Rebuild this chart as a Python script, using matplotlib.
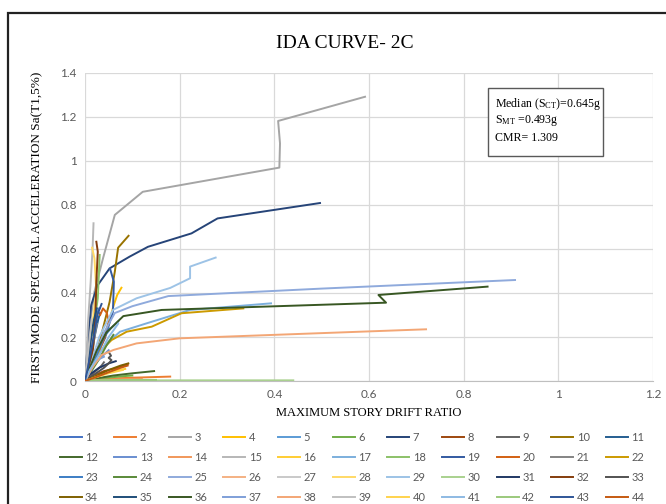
import matplotlib
matplotlib.use("Agg")
import matplotlib.pyplot as plt
from matplotlib.patches import Rectangle

plt.rcParams['mathtext.fontset'] = 'custom'
plt.rcParams['mathtext.rm'] = 'Liberation Serif'
plt.rcParams['mathtext.it'] = 'Liberation Serif:italic'

SERIF = 'Liberation Serif'
SANS = 'Lato'

# IDA curves, one (drift, Sa) pair of lists per record
c01 = ([0, 0.006, 0.012, 0.018, 0.024, 0.030], [0, 0.08, 0.16, 0.24, 0.30, 0.33])
c02 = ([0, 0.01, 0.04, 0.10, 0.18], [0, 0.005, 0.01, 0.015, 0.02])
c03 = ([0, 0.005, 0.010, 0.020, 0.038, 0.063, 0.122, 0.4106, 0.412, 0.408, 0.5916],
       [0, 0.10, 0.255, 0.406, 0.557, 0.755, 0.860, 0.970, 1.08, 1.182, 1.292])
c04 = ([0, 0.010, 0.027, 0.040, 0.049, 0.060, 0.068, 0.077], [0, 0.04, 0.118, 0.19, 0.255, 0.34, 0.391, 0.424])
c05 = ([0, 0.010, 0.025, 0.040, 0.055, 0.070], [0, 0.06, 0.13, 0.20, 0.24, 0.27])
c06 = ([0, 0.03, 0.07, 0.10], [0, 0.01, 0.02, 0.025])
c07 = ([0, 0.006, 0.013, 0.027, 0.052, 0.094, 0.133, 0.225, 0.280, 0.4965],
       [0, 0.179, 0.345, 0.436, 0.512, 0.565, 0.610, 0.671, 0.739, 0.809])
c08 = ([0, 0.015, 0.04, 0.07, 0.09], [0, 0.02, 0.045, 0.06, 0.075])
c09 = ([0, 0.01, 0.025, 0.035, 0.04], [0, 0.02, 0.05, 0.07, 0.085])
c10 = ([0, 0.020, 0.038, 0.052, 0.063, 0.070, 0.092], [0, 0.088, 0.239, 0.360, 0.497, 0.606, 0.660])
c11 = ([0, 0.008, 0.015, 0.022, 0.028, 0.032], [0, 0.06, 0.14, 0.22, 0.28, 0.31])
c12 = ([0, 0.02, 0.06, 0.10, 0.146], [0, 0.01, 0.025, 0.035, 0.045])
c13 = ([0, 0.01, 0.025, 0.04, 0.05], [0, 0.04, 0.09, 0.12, 0.14])
c14 = ([0, 0.03, 0.08, 0.12], [0, 0.005, 0.008, 0.01])
c15 = ([0, 0.003, 0.006, 0.012, 0.016, 0.018], [0, 0.08, 0.255, 0.451, 0.60, 0.717])
c16 = ([0, 0.02, 0.05, 0.07, 0.085], [0, 0.02, 0.04, 0.05, 0.055])
c17 = ([0, 0.010, 0.025, 0.045, 0.074, 0.130, 0.222, 0.393], [0, 0.05, 0.11, 0.17, 0.224, 0.262, 0.323, 0.353])
c18 = ([0, 0.008, 0.016, 0.027, 0.029, 0.031], [0, 0.10, 0.20, 0.376, 0.47, 0.573])
c19 = ([0, 0.020, 0.042, 0.059, 0.061, 0.053], [0, 0.10, 0.194, 0.315, 0.451, 0.510])
c20 = ([0, 0.015, 0.030, 0.042, 0.050, 0.046, 0.038, 0.032], [0, 0.06, 0.14, 0.20, 0.27, 0.31, 0.33, 0.30])
c21 = ([0, 0.008, 0.015, 0.020, 0.025], [0, 0.05, 0.12, 0.20, 0.26])
c22 = ([0, 0.012, 0.030, 0.056, 0.088, 0.141, 0.204, 0.3345], [0, 0.06, 0.13, 0.186, 0.224, 0.247, 0.308, 0.330])
c23 = ([0, 0.012, 0.025, 0.040, 0.050], [0, 0.05, 0.12, 0.20, 0.24])
c24 = ([0, 0.015, 0.030, 0.045, 0.060], [0, 0.05, 0.10, 0.16, 0.21])
c25 = ([0, 0.010, 0.025, 0.040, 0.063, 0.100, 0.176, 0.500, 0.9085],
       [0, 0.06, 0.14, 0.22, 0.309, 0.340, 0.386, 0.420, 0.459])
c26 = ([0, 0.02, 0.04, 0.06], [0, 0.02, 0.035, 0.045])
c27 = ([0, 0.005, 0.010, 0.015], [0, 0.05, 0.12, 0.20])
c28 = ([0, 0.008, 0.015, 0.024, 0.020, 0.015], [0, 0.10, 0.25, 0.406, 0.557, 0.606])
c29 = ([0, 0.008, 0.018, 0.030, 0.059, 0.109, 0.180, 0.222, 0.222, 0.276],
       [0, 0.05, 0.12, 0.20, 0.323, 0.376, 0.423, 0.467, 0.520, 0.561])
c30 = ([0, 0.05, 0.20, 0.44], [0, 0.002, 0.003, 0.003])
c31 = ([0, 0.01, 0.03, 0.05, 0.065], [0, 0.03, 0.06, 0.08, 0.09])
c32 = ([0, 0.008, 0.017, 0.022, 0.024, 0.027, 0.024], [0, 0.07, 0.149, 0.30, 0.451, 0.588, 0.633])
c33 = ([0, 0.02, 0.04, 0.05, 0.056, 0.050, 0.055, 0.052], [0, 0.03, 0.06, 0.08, 0.095, 0.105, 0.115, 0.125])
c34 = ([0, 0.02, 0.05, 0.075, 0.0915], [0, 0.02, 0.05, 0.07, 0.08])
c35 = ([0, 0.006, 0.012, 0.018, 0.025], [0, 0.08, 0.18, 0.27, 0.33])
c36 = ([0, 0.010, 0.025, 0.045, 0.081, 0.162, 0.636, 0.620, 0.8505],
       [0, 0.06, 0.14, 0.22, 0.295, 0.323, 0.356, 0.391, 0.429])
c37 = ([0, 0.01, 0.02, 0.03, 0.04], [0, 0.04, 0.08, 0.10, 0.11])
c38 = ([0, 0.015, 0.035, 0.060, 0.109, 0.200, 0.7205], [0, 0.06, 0.118, 0.141, 0.171, 0.194, 0.235])
c39 = ([0, 0.005, 0.010, 0.014], [0, 0.10, 0.20, 0.28])
c40 = ([0, 0.02, 0.05, 0.07, 0.08], [0, 0.015, 0.035, 0.045, 0.05])
c41 = ([0, 0.01, 0.03, 0.05, 0.07], [0, 0.05, 0.12, 0.20, 0.26])
c42 = ([0, 0.02, 0.10, 0.15], [0, 0.003, 0.005, 0.005])
c43 = ([0, 0.007, 0.014, 0.020, 0.026, 0.035], [0, 0.07, 0.15, 0.22, 0.30, 0.35])
c44 = ([0, 0.02, 0.05, 0.075, 0.09], [0, 0.015, 0.04, 0.06, 0.07])

curves = [c01, c02, c03, c04, c05, c06, c07, c08, c09, c10, c11,
          c12, c13, c14, c15, c16, c17, c18, c19, c20, c21, c22,
          c23, c24, c25, c26, c27, c28, c29, c30, c31, c32, c33,
          c34, c35, c36, c37, c38, c39, c40, c41, c42, c43, c44]

# office palette, repeated with shades
colors = ['#4472C4', '#ED7D31', '#A5A5A5', '#FFC000', '#5B9BD5', '#70AD47',
          '#264478', '#9E480E', '#636363', '#997300', '#255E91', '#43682B',
          '#698ED0', '#F1975A', '#B7B7B7', '#FFCD33', '#7CAFDD', '#8CC168',
          '#335AA1', '#D26012', '#848484', '#CC9A00', '#3C7DC4', '#5A8A39',
          '#8FAADC', '#F4B183', '#C9C9C9', '#FFD966', '#9DC3E6', '#A9D18E',
          '#203864', '#843C0C', '#525252', '#7F6000', '#1F4E79', '#385723',
          '#7F9FD8', '#F3A675', '#C0C0C0', '#FFD34D', '#8EBAE3', '#9BC97C',
          '#2F5597', '#C55A11']

xticks = [0, 0.2, 0.4, 0.6, 0.8, 1, 1.2]
yticks = [0, 0.2, 0.4, 0.6, 0.8, 1, 1.2, 1.4]

fig = plt.figure(figsize=(6.66, 5.04), dpi=100)
ax = fig.add_axes([85/666, 1 - 381/504, (653-85)/666, (381-73)/504])

lines = []
for i, (dr, sa) in enumerate(curves):
    ln, = ax.plot(dr, sa, color=colors[i], lw=1.4, label=str(i + 1))
    lines.append(ln)

ax.set_xlim(0, 1.2)
ax.set_ylim(0, 1.4)
ax.set_xticks(xticks)
ax.set_yticks(yticks)
ax.set_xticklabels([f"{t:g}" for t in xticks])
ax.set_yticklabels([f"{t:g}" for t in yticks])
ax.grid(True, color='#D9D9D9', lw=0.9)
ax.set_axisbelow(True)
for s in ['top', 'right', 'left']:
    ax.spines[s].set_visible(False)
ax.spines['bottom'].set_color('#BFBFBF')
ax.tick_params(length=0, labelsize=8.5, labelcolor='#595959', pad=6)
for lab in ax.get_xticklabels() + ax.get_yticklabels():
    lab.set_fontfamily(SANS)

fig.text(345/666, 1 - 44/504, 'IDA CURVE- 2C', family=SERIF, fontsize=14,
         ha='center', va='center')
ax.set_xlabel('MAXIMUM STORY DRIFT RATIO', family=SERIF, fontsize=9, labelpad=5)
ax.set_ylabel('FIRST MODE SPECTRAL ACCELERATION Sa(T1,5%)', family=SERIF,
              fontsize=9.5, labelpad=12)

# annotation box with median values
fig.patches.append(Rectangle((488/666, 1 - 156/504), 115/666, 68/504,
                             transform=fig.transFigure, facecolor='white',
                             edgecolor='#595959', lw=1.0, zorder=5))
box_lines = [r'Median (S$_{\mathrm{CT}}$)=0.645g', r'S$_{\mathrm{MT}}$ =0.493g', 'CMR= 1.309']
for k, t in enumerate(box_lines):
    fig.text(495/666, 1 - (104 + 17*k)/504, t, family=SERIF, fontsize=8.6,
             ha='left', va='center', zorder=6)

# legend laid out row by row
order = [r*11 + c for c in range(11) for r in range(4)]
leg = fig.legend([lines[i] for i in order], [str(i + 1) for i in order],
                 loc='lower center', bbox_to_anchor=(352/666, -0.018), ncol=11,
                 frameon=False, handlelength=2.0, handletextpad=0.3,
                 columnspacing=1.45, labelspacing=0.82,
                 prop={'family': SANS, 'size': 8})
for t in leg.get_texts():
    t.set_color('#595959')

# outer frame
fig.patches.append(Rectangle((8/666, -0.05), 1.1, 1 - 13/504 + 0.05,
                             transform=fig.transFigure, facecolor='none',
                             edgecolor='#222222', lw=1.6, clip_on=False))

fig.savefig('out.png', dpi=100)
